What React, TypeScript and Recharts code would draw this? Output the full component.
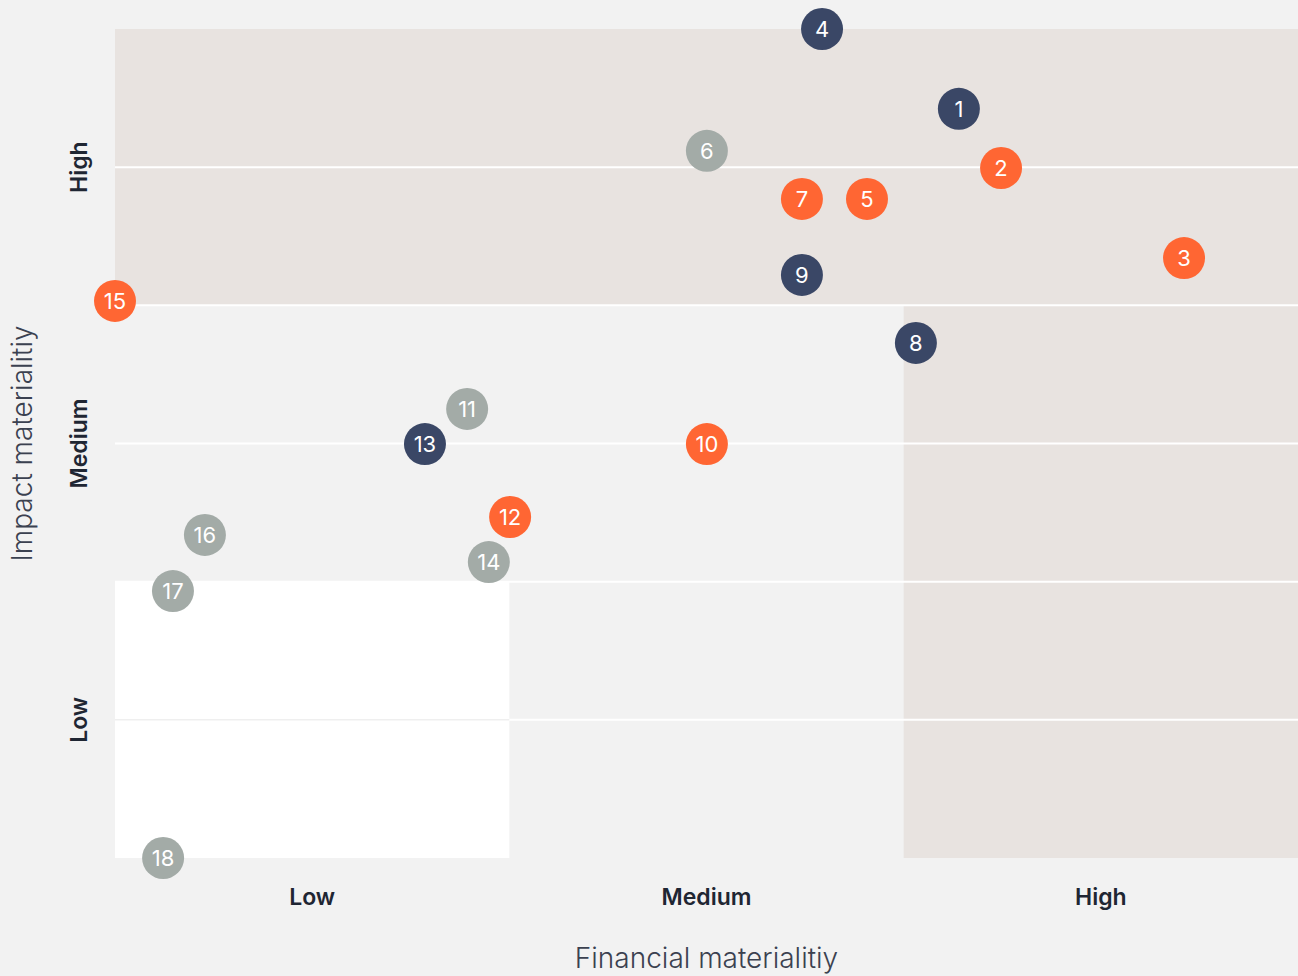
import { ScatterChart, Scatter, XAxis, YAxis, ReferenceArea, ReferenceLine } from 'recharts';

// topic ids and their positions (financial = x, impact = y, 0..3 scale)
const ids = [1, 2, 3, 4, 5, 6, 7, 8, 9, 10, 11, 12, 13, 14, 15, 16, 17, 18];
const financial = [2.14, 2.247, 2.711, 1.793, 1.907, 1.501, 1.742, 2.031, 1.742, 1.501, 0.893, 1.002, 0.786, 0.948, 0, 0.228, 0.147, 0.122];
const impact = [2.711, 2.497, 2.171, 3.0, 2.385, 2.559, 2.385, 1.864, 2.11, 1.498, 1.625, 1.234, 1.498, 1.071, 2.016, 1.169, 0.966, 0];
const groups = ['navy', 'orange', 'orange', 'navy', 'orange', 'grey', 'orange', 'navy', 'navy', 'orange', 'grey', 'orange', 'navy', 'grey', 'orange', 'grey', 'grey', 'grey'];

const levels = ['Low', 'Medium', 'High'];
const levelTicks = [0.5, 1.5, 2.5];
const gridLines = [0.5, 1, 1.5, 2, 2.5];

const colors: Record<string, string> = {
  navy: '#3a4766',
  orange: '#ff6633',
  grey: '#a3aba7',
};

const BG = '#f2f2f2';
const BEIGE = '#e8e3e0';
const FONT = 'Inter, "Noto Sans", sans-serif';

const points = ids.map((id, i) => ({
  id,
  x: financial[i],
  y: impact[i],
  group: groups[i],
}));

const levelName = (v: number) => levels[Math.floor(v)] ?? '';

function Bubble(props: any) {
  const { cx, cy, payload } = props;
  return (
    <g>
      <circle cx={cx} cy={cy} r={21} fill={colors[payload.group]} />
      <text
        x={cx}
        y={cy}
        dy="0.36em"
        textAnchor="middle"
        fill="#fff"
        fontSize={22}
        fontFamily={FONT}
      >
        {payload.id}
      </text>
    </g>
  );
}

function XTick(props: any) {
  const { x, y, payload } = props;
  return (
    <text x={x} y={y + 31} dy="0.36em" textAnchor="middle" fill="#1f2633" fontSize={23} fontWeight={600} fontFamily={FONT}>
      {levelName(payload.value)}
    </text>
  );
}

function YTick(props: any) {
  const { x, y, payload } = props;
  const cx = x - 28;
  return (
    <text
      x={cx}
      y={y}
      dy="0.36em"
      textAnchor="middle"
      fill="#1f2633"
      fontSize={23}
      fontWeight={600}
      fontFamily={FONT}
      transform={`rotate(-90, ${cx}, ${y})`}
    >
      {levelName(payload.value)}
    </text>
  );
}

export default function App() {
  const groupNames = ['grey', 'orange', 'navy'];
  return (
    <div style={{ position: 'fixed', left: 0, top: 0, width: 1298, height: 976, background: BG, fontFamily: FONT }}>
      <ScatterChart width={1298} height={976} margin={{ top: 29, right: 0, bottom: 0, left: 0 }}>
        <XAxis
          type="number"
          dataKey="x"
          domain={[0, 3]}
          ticks={levelTicks}
          axisLine={false}
          tickLine={false}
          height={118}
          tick={<XTick />}
          label={{ value: 'Financial materialitiy', position: 'insideBottom', offset: 8, fill: '#3b4150', fontSize: 28, fontWeight: 300, fontFamily: FONT }}
        />
        <YAxis
          type="number"
          dataKey="y"
          domain={[0, 3]}
          ticks={levelTicks}
          axisLine={false}
          tickLine={false}
          width={115}
          tick={<YTick />}
          label={{ value: 'Impact materialitiy', angle: -90, position: 'insideLeft', offset: 22, style: { textAnchor: 'middle' }, fill: '#3b4150', fontSize: 28, fontWeight: 300, fontFamily: FONT }}
        />
        <ReferenceArea x1={0} x2={3} y1={2} y2={3} fill={BEIGE} fillOpacity={1} stroke="none" />
        <ReferenceArea x1={2} x2={3} y1={0} y2={2} fill={BEIGE} fillOpacity={1} stroke="none" />
        <ReferenceArea x1={0} x2={1} y1={0} y2={1} fill="#ffffff" fillOpacity={1} stroke="none" />
        {gridLines.map((v) => (
          <ReferenceLine key={v} y={v} stroke="#ffffff" strokeWidth={2} />
        ))}
        <ReferenceLine segment={[{ x: 0, y: 0.5 }, { x: 1, y: 0.5 }]} stroke="#efefef" strokeWidth={1.5} />
        {groupNames.map((g) => (
          <Scatter
            key={g}
            data={points.filter((p) => p.group === g)}
            shape={<Bubble />}
            isAnimationActive={false}
          />
        ))}
      </ScatterChart>
    </div>
  );
}
